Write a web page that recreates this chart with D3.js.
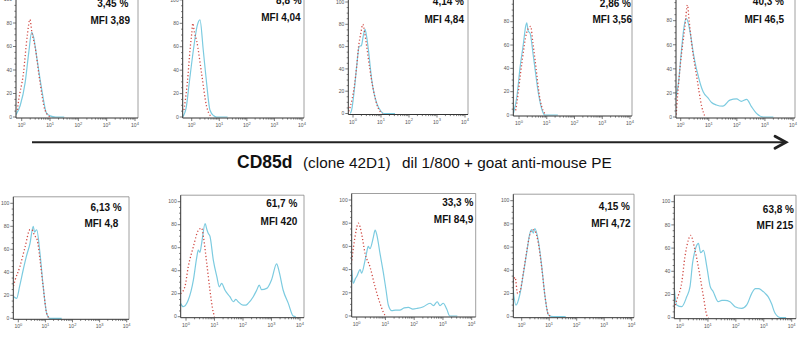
<!DOCTYPE html>
<html><head><meta charset="utf-8">
<script src="https://cdn.jsdelivr.net/npm/d3@7"></script>
<style>body{margin:0;background:#fff}svg{display:block}</style>
</head><body>
<svg id="c" width="799" height="340"></svg>
<script>
// ---------- data (x = log10 fluorescence, y = % of max) ----------
const pctLabels = ["3,45 %","8,8 %","4,14 %","2,86 %","40,3 %","6,13 %","61,7 %","33,3 %","4,15 %","63,8 %"];
const mfiLabels = ["MFI 3,89","MFI 4,04","MFI 4,84","MFI 3,56","MFI 46,5","MFI 4,8","MFI 420","MFI 84,9","MFI 4,72","MFI 215"];
const yTicks = [0,20,40,60,80,100];
const xDecades = [0,1,2,3,4];
const axisTitleBold = "CD85d";
const axisTitleA = "(clone 42D1)";
const axisTitleB = "dil 1/800 + goat anti-mouse PE";

const blue1 = [[-0.2,2],[-0.05,10],[0.12,29],[0.25,55],[0.35,72],[0.42,68],[0.53,51],[0.71,23],[0.88,3],[1.0,1],[1.2,0],[1.5,0]];
const red1  = [[-0.15,6],[-0.12,12],[0.06,37],[0.2,70],[0.29,83],[0.36,72],[0.47,60],[0.65,29],[0.82,6],[1.0,0]];
const blue2 = [[-0.33,0],[-0.2,8],[-0.09,29],[0.06,57],[0.2,78],[0.3,83],[0.42,57],[0.54,29],[0.66,6],[0.8,1],[0.9,0],[1.3,0]];
const red2  = [[-0.28,6],[-0.16,29],[-0.05,60],[0.0,71],[0.04,80],[0.1,72],[0.18,65],[0.36,37],[0.54,9],[0.72,0]];
const blue3 = [[-0.1,0],[-0.05,3],[0.05,22],[0.13,42],[0.22,60],[0.3,61],[0.37,70],[0.43,75.5],[0.48,70],[0.55,57],[0.67,30],[0.85,9],[1.0,2],[1.1,0],[1.5,0]];
const red3  = [[-0.15,2],[-0.1,6],[0.05,25],[0.13,42],[0.2,60],[0.28,72],[0.35,80],[0.42,72],[0.49,60],[0.6,40],[0.72,22],[0.88,6],[1.05,0]];
const blue4 = [[-0.2,1.5],[-0.08,15],[0.04,41],[0.16,61.5],[0.24,76],[0.28,79],[0.33,72],[0.4,70],[0.52,50],[0.7,18.6],[0.85,3],[0.93,0],[1.4,0]];
const red4  = [[-0.12,4],[-0.08,10],[0.1,44],[0.28,71],[0.36,75],[0.42,76],[0.5,62],[0.58,47],[0.76,13],[0.97,0]];
const blue5 = [[-0.17,17],[-0.08,28],[0.03,56],[0.12,75],[0.19,82],[0.27,78],[0.36,67],[0.45,53],[0.54,42],[0.63,33.6],[0.72,26],[0.8,21],[0.98,15.6],[1.1,12],[1.27,10],[1.5,9],[1.75,14],[1.99,15],[2.16,13],[2.35,14.7],[2.52,8.6],[2.7,3],[2.95,0],[3.3,0]];
const red5  = [[-0.16,2],[-0.14,8.6],[-0.02,42],[0.15,75],[0.24,93],[0.3,80],[0.39,61],[0.57,33.6],[0.75,8.6],[0.87,0]];
const blue6 = [[-0.18,19],[-0.06,17.4],[0.05,28],[0.18,42],[0.3,54],[0.43,65],[0.55,80],[0.6,75],[0.68,77],[0.8,56.5],[0.92,27.5],[1.05,4],[1.17,0],[1.6,0]];
const red6  = [[-0.18,28],[-0.12,33],[0.06,45],[0.25,62],[0.43,77],[0.5,77],[0.6,72],[0.7,68],[0.8,51],[0.92,27],[1.05,4],[1.15,0]];
const blue7 = [[-0.19,11.6],[-0.1,8.7],[0.08,14.5],[0.26,32],[0.38,52],[0.43,58],[0.49,56],[0.55,64],[0.67,81],[0.73,76],[0.78,72.5],[0.84,70],[0.96,49],[1.08,35],[1.17,26],[1.25,29],[1.37,23],[1.54,17.4],[1.66,13],[1.75,15],[1.83,13],[2.0,10],[2.1,10],[2.18,11.6],[2.36,17.4],[2.48,23],[2.57,27.5],[2.65,23.5],[2.83,24.6],[3.0,32],[3.18,46],[3.27,39],[3.41,23],[3.59,11.6],[3.76,0.6],[3.85,0]];
const red7  = [[-0.19,20],[-0.04,26],[0.08,43.5],[0.26,61],[0.43,75],[0.55,77],[0.62,68],[0.73,46],[0.84,23],[0.94,6],[1.0,0]];
const blue8 = [[-0.17,39.7],[-0.12,28],[-0.05,32],[0.0,34],[0.12,40],[0.17,37],[0.29,48],[0.35,55],[0.4,60],[0.46,58],[0.58,68],[0.64,74],[0.7,70],[0.81,54],[0.93,37],[1.02,22.4],[1.1,9.5],[1.22,4.6],[1.35,5],[1.5,5],[1.65,7],[1.8,7.5],[1.95,6],[2.1,6.5],[2.32,8],[2.55,11],[2.67,9],[2.8,12.3],[2.9,9],[3.01,11],[3.13,6],[3.24,0],[3.5,0]];
const red8  = [[-0.17,48],[-0.06,68],[0.06,80],[0.17,71],[0.29,54],[0.46,42.5],[0.64,25],[0.81,11],[0.98,1],[1.05,0]];
const blue9 = [[-0.31,23],[-0.21,10],[-0.06,20],[0.06,37],[0.18,55],[0.3,72],[0.36,75],[0.42,72],[0.48,76],[0.6,66],[0.73,43],[0.85,17],[0.97,1.5],[1.15,0],[1.6,0]];
const red9  = [[-0.31,30],[-0.24,34],[-0.15,20],[-0.06,22],[0.06,38],[0.18,56],[0.3,71],[0.4,75],[0.48,74],[0.6,64],[0.73,42],[0.85,17],[0.97,2],[1.1,0]];
const blue10 = [[-0.2,24],[-0.12,11],[0.06,9.5],[0.24,18],[0.36,27],[0.45,47],[0.54,58],[0.66,64],[0.74,56],[0.84,58],[0.96,44],[1.08,27],[1.19,22.4],[1.37,13.8],[1.5,15],[1.61,15],[1.79,13.8],[1.97,9.5],[2.21,8],[2.39,11],[2.57,21],[2.7,25],[2.81,25],[2.93,23.5],[3.05,21],[3.16,18],[3.28,12],[3.4,4],[3.6,0],[3.8,0]];
const red10 = [[-0.2,8],[-0.12,15],[0.06,30],[0.18,53],[0.3,67],[0.38,71],[0.54,58],[0.72,35],[0.84,18],[0.96,2],[1.02,0]];

const blueSeries = [blue1,blue2,blue3,blue4,blue5,blue6,blue7,blue8,blue9,blue10];
const redSeries  = [red1,red2,red3,red4,red5,red6,red7,red8,red9,red10];

// ---------- layout ----------
// [boxLeft, boxRight, px at 10^0, px at 10^4, px at y=0, px at y=100]
const layout = [
  [16,138,21.7,135,117,-0.5],
  [182.7,304,191.7,302,117,-0.1],
  [348.3,468,353,465,113.5,2],
  [513.3,632,519,630,115,-1.6],
  [676,795,680.7,793,117,-3.4],
  [13.3,129,18.3,126.7,318.3,203.3],
  [180.7,304,186,300,316.7,201.7],
  [351.7,475.7,356.7,471.7,316,200],
  [513.3,634,521.7,631.7,316.7,200.7],
  [674.3,796,680,791.7,317.7,201.7]
];
// [pctRight, pctBaseline, mfiRight, mfiBaseline]
const textPos = [
  [128.3,7.3,130,24],
  [301.7,4,300.7,20.7],
  [464,5,464,22.7],
  [631,6.7,632,23.3],
  [784,5,784,23.3],
  [121.7,210.7,118.3,227.3],
  [297.3,207.3,297.3,224.7],
  [473.3,206,473.3,223.3],
  [630,210,630.7,226.7],
  [794,212.7,793.3,229.3]
];

const svg = d3.select("#c");
const defs = svg.append("defs");
const FONT = "'Liberation Sans', Arial, Helvetica, sans-serif";

layout.forEach((L,i)=>{
  const [left,right,x0,x4,y0,y100] = L;
  const x = d3.scaleLog().domain([1,1e4]).range([x0,x4]);
  const y = d3.scaleLinear().domain([0,100]).range([y0,y100]);
  const top = y100 - 6.5, bottom = y0 + 1;
  const g = svg.append("g");
  const cid = "clip"+i;
  defs.append("clipPath").attr("id",cid).append("rect")
    .attr("x",left).attr("y",top).attr("width",right-left).attr("height",bottom-top);

  // box (top/right)
  g.append("path").attr("d",`M${left},${top}H${right}V${bottom}`)
    .attr("fill","none").attr("stroke","#888").attr("stroke-width",0.8);

  const line = d3.line().x(d=>x(Math.pow(10,d[0]))).y(d=>y(d[1])).curve(d3.curveMonotoneX);
  g.append("path").datum(blueSeries[i]).attr("d",line).attr("clip-path",`url(#${cid})`)
    .attr("fill","none").attr("stroke","#7ccbe0").attr("stroke-width",1.2);
  g.append("path").datum(redSeries[i]).attr("d",line).attr("clip-path",`url(#${cid})`)
    .attr("fill","none").attr("stroke","#d04a44").attr("stroke-width",1.3)
    .attr("stroke-dasharray","1.2,2.2");

  // axes lines
  g.append("path").attr("d",`M${left},${top}V${bottom}H${right}`)
    .attr("fill","none").attr("stroke","#333").attr("stroke-width",1);

  // y ticks
  const ya = g.append("g").attr("stroke","#444").attr("stroke-width",0.7);
  d3.range(0,101,5).forEach(v=>{
    const major = v%20===0;
    ya.append("line").attr("x1",left-(major?3:1.6)).attr("x2",left)
      .attr("y1",y(v)).attr("y2",y(v));
  });
  g.selectAll(null).data(yTicks).enter().append("text")
    .attr("x",left-4).attr("y",d=>y(d)).attr("dy","0.35em")
    .attr("text-anchor","end").attr("font-size",5).attr("font-family",FONT)
    .attr("fill","#555").text(d=>d);

  // x ticks
  const xa = g.append("g").attr("stroke","#444").attr("stroke-width",0.7);
  xDecades.forEach(k=>{
    const p = x(Math.pow(10,k));
    if(p>=left-0.5 && p<=right+0.5)
      xa.append("line").attr("x1",p).attr("x2",p).attr("y1",bottom).attr("y2",bottom+3);
    if(k<4) for(let m=2;m<10;m++){
      const q = x(m*Math.pow(10,k));
      if(q<=right) xa.append("line").attr("x1",q).attr("x2",q).attr("y1",bottom).attr("y2",bottom+1.6);
    }
  });
  xDecades.forEach(k=>{
    const t = g.append("text").attr("x",x(Math.pow(10,k))).attr("y",bottom+9)
      .attr("text-anchor","middle").attr("font-size",5).attr("font-family",FONT).attr("fill","#555");
    t.append("tspan").text("10");
    t.append("tspan").attr("dy",-2.2).attr("font-size",4).text(k);
  });

  // annotations
  const tp = textPos[i];
  g.append("text").attr("x",tp[0]).attr("y",tp[1]).attr("text-anchor","end")
    .attr("font-size",10).attr("font-weight","bold").attr("font-family",FONT).attr("fill","#111")
    .text(pctLabels[i]);
  g.append("text").attr("x",tp[2]).attr("y",tp[3]).attr("text-anchor","end")
    .attr("font-size",10).attr("font-weight","bold").attr("font-family",FONT).attr("fill","#111")
    .text(mfiLabels[i]);
});

// arrow
svg.append("line").attr("x1",32).attr("x2",784).attr("y1",142.3).attr("y2",142.3)
  .attr("stroke","#222").attr("stroke-width",2);
svg.append("path").attr("d","M775,136.3L786,142.3L775,148.3")
  .attr("fill","none").attr("stroke","#222").attr("stroke-width",2.8)
  .attr("stroke-linejoin","miter").attr("stroke-linecap","round");

// axis title
svg.append("text").attr("x",237).attr("y",168).attr("font-size",17.5).attr("font-weight","bold")
  .attr("font-family",FONT).attr("fill","#111").text(axisTitleBold);
svg.append("text").attr("x",303).attr("y",168).attr("font-size",15.3)
  .attr("font-family",FONT).attr("fill","#111").text(axisTitleA);
svg.append("text").attr("x",402).attr("y",168).attr("font-size",15.3)
  .attr("font-family",FONT).attr("fill","#111").text(axisTitleB);
</script>
</body></html>
